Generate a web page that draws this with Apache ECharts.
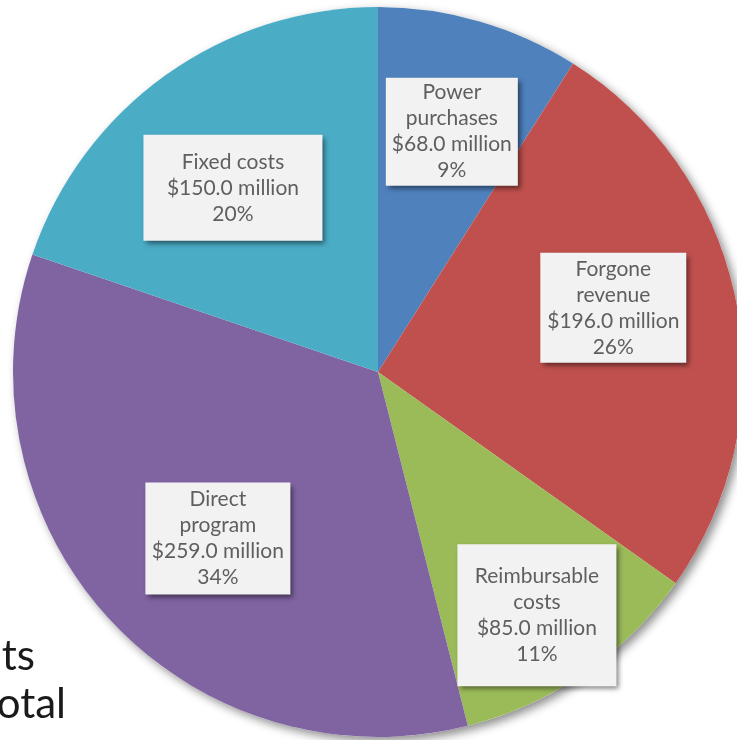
<!DOCTYPE html>
<html>
<head>
<meta charset="utf-8">
<script src="https://cdn.jsdelivr.net/npm/echarts@6/dist/echarts.min.js"></script>
<style>
html,body{margin:0;padding:0;background:#fff;}
#main{width:737px;height:740px;}
</style>
</head>
<body>
<div id="main"></div>
<script>
// ---- data ----
const categories = ['Power\npurchases', 'Forgone\nrevenue', 'Reimbursable\ncosts', 'Direct\nprogram', 'Fixed costs'];
const values = [68, 196, 85, 259, 150];
const colors = ['#4F81BD', '#C0504D', '#9BBB59', '#8064A2', '#4BACC6'];
const backgroundLines = ['costs', 'total'];

// ---- label box styling (not data) ----
const labelWidths = [124, 138, 151, 137, 171];
const labelPadV = [2, 3, 19, 4, 14];
const labelOffsets = [[6, -6], [-4, -17], [21, 42], [19, 1], [-3, 14]];

const chart = echarts.init(document.getElementById('main'), null, {renderer: 'canvas'});

const CX = 378, CY = 372, R = 365;

const mainData = categories.map((c, i) => ({
  name: c, value: values[i], itemStyle: {color: colors[i]}
}));
const labelData = categories.map((c, i) => ({
  name: c, value: values[i],
  label: {
    width: labelWidths[i],
    padding: [labelPadV[i], 4],
    offset: labelOffsets[i]
  }
}));

const option = {
  animation: false,
  graphic: backgroundLines.map((t, i) => ({
    type: 'text', z: 0,
    style: {
      text: t, x: [35, 66][i], y: [635, 683][i],
      textAlign: 'right', textVerticalAlign: 'top',
      font: '42px Lato', fill: '#1a1a1a'
    }
  })),
  series: [
    {
      type: 'pie', z: 1, silent: true,
      center: [CX, CY], radius: [0, R],
      label: {show: false}, labelLine: {show: false},
      itemStyle: {color: '#ffffff', shadowBlur: 10, shadowOffsetX: 4, shadowOffsetY: 4, shadowColor: 'rgba(0,0,0,0.45)'},
      data: [{value: 1}]
    },
    {
      type: 'pie', z: 2, silent: true,
      center: [CX, CY], radius: [0, R],
      startAngle: 90, clockwise: true,
      label: {show: false}, labelLine: {show: false},
      itemStyle: {borderWidth: 0},
      data: mainData
    },
    {
      type: 'pie', z: 3, silent: true,
      center: [CX, CY], radius: [0, R * 0.66 * 2],
      startAngle: 90, clockwise: true,
      itemStyle: {color: 'rgba(0,0,0,0)', borderWidth: 0},
      labelLine: {show: false},
      label: {
        show: true, position: 'inside',
        fontFamily: 'Lato', fontSize: 21, lineHeight: 26,
        color: '#5f5f5f', align: 'center',
        backgroundColor: '#F2F2F2',
        shadowColor: 'rgba(0,0,0,0.5)', shadowBlur: 5, shadowOffsetX: 3, shadowOffsetY: 3,
        formatter: p => p.name + '\n$' + p.value.toFixed(1) + ' million\n' + Math.round(p.percent) + '%'
      },
      data: labelData
    }
  ]
};
chart.setOption(option);
</script>
</body>
</html>
